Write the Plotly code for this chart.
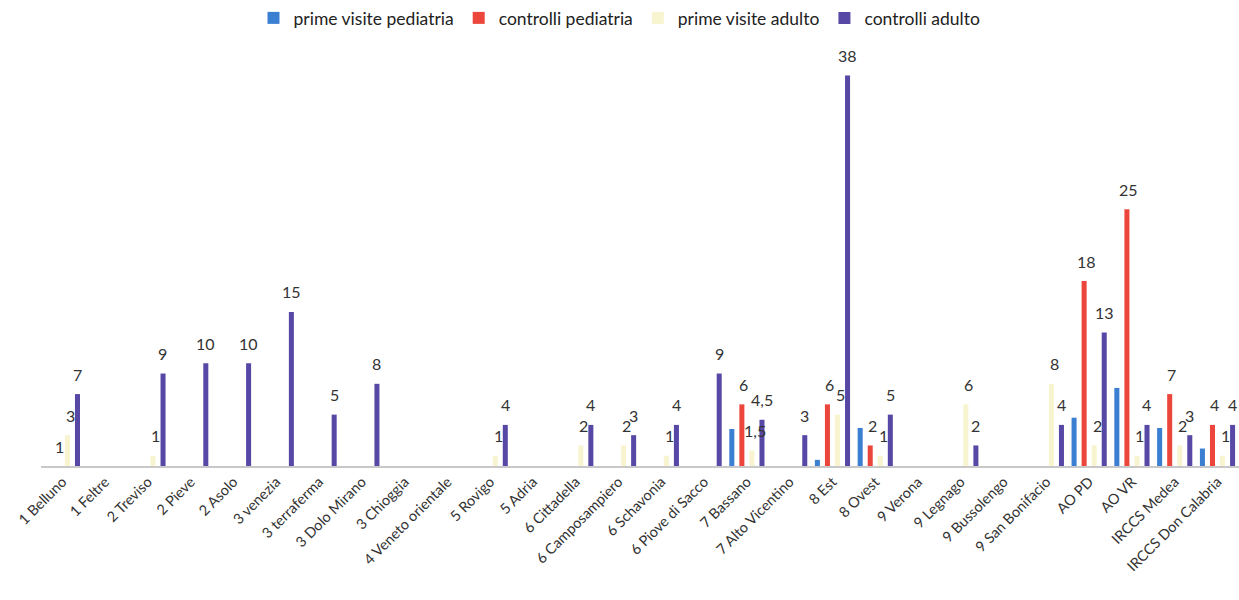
import plotly.graph_objects as go

categories = ["1 Belluno", "1 Feltre", "2 Treviso", "2 Pieve", "2 Asolo", "3 venezia",
              "3 terraferma", "3 Dolo Mirano", "3 Chioggia", "4 Veneto orientale",
              "5 Rovigo", "5 Adria", "6 Cittadella", "6 Camposampiero", "6 Schavonia",
              "6 Piove di Sacco", "7 Bassano", "7 Alto Vicentino", "8 Est", "8 Ovest",
              "9 Verona", "9 Legnago", "9 Bussolengo", "9 San Bonifacio", "AO PD",
              "AO VR", "IRCCS Medea", "IRCCS Don Calabria"]

prime_visite_pediatria = [0, 0, 0, 0, 0, 0, 0, 0, 0, 0, 0, 0, 0, 0, 0, 0,
                          3.6, 0, 0.6, 3.7, 0, 0, 0, 0, 4.7, 7.6, 3.7, 1.7]
controlli_pediatria = [0, 0, 0, 0, 0, 0, 0, 0, 0, 0, 0, 0, 0, 0, 0, 0,
                       6, 0, 6, 2, 0, 0, 0, 0, 18, 25, 7, 4]
prime_visite_adulto = [3, 0, 1, 0, 0, 0, 0, 0, 0, 0, 1, 0, 2, 2, 1, 0,
                       1.5, 0, 5, 1, 0, 6, 0, 8, 2, 1, 2, 1]
controlli_adulto = [7, 0, 9, 10, 10, 15, 5, 8, 0, 0, 4, 0, 4, 3, 4, 9,
                    4.5, 3, 38, 5, 0, 2, 0, 4, 13, 4, 3, 4]

# data labels as printed on the chart (Italian decimal comma)
controlli_pediatria_labels = ["1", "", "", "", "", "", "", "", "", "", "", "", "", "", "", "",
                              "6", "", "6", "2", "", "", "", "", "18", "25", "7", "4"]


def fmt(v):
    if v == 0:
        return ""
    return ("%g" % v).replace(".", ",")


FONT = "Lato, Liberation Sans, sans-serif"

# (name, values, colour, labels, label x-offset in px relative to group centre)
series = [
    ("prime visite pediatria", prime_visite_pediatria, "#3a7fd2", None, -15),
    ("controlli pediatria", controlli_pediatria, "#ec463c", controlli_pediatria_labels, -3),
    ("prime visite adulto", prime_visite_adulto, "#f7f4cf", [fmt(v) for v in prime_visite_adulto], 8),
    ("controlli adulto", controlli_adulto, "#5748a6", [fmt(v) for v in controlli_adulto], 15),
]

fig = go.Figure()
annotations = []
for name, vals, color, labels, dx in series:
    fig.add_trace(go.Bar(
        name=name, x=categories, y=vals,
        marker=dict(color=color, line=dict(width=0)),
    ))
    if labels is None:
        continue
    for cat, v, lab in zip(categories, vals, labels):
        if not lab:
            continue
        annotations.append(dict(
            x=cat, y=v, xref="x", yref="y", text=lab, showarrow=False,
            xshift=dx, yshift=20, yanchor="middle", xanchor="center",
            font=dict(family=FONT, size=16, color="#333333"),
        ))

fig.update_layout(
    width=1239, height=600,
    barmode="group", bargap=0.06, bargroupgap=0.5,
    plot_bgcolor="white", paper_bgcolor="white",
    margin=dict(l=41, r=0, t=55, b=134, autoexpand=False),
    font=dict(family=FONT, color="#333333"),
    showlegend=True,
    legend=dict(orientation="h", x=0.5, xanchor="center", xref="container",
                y=1.0, yanchor="top", yref="container",
                font=dict(size=17.5, color="#222222"), traceorder="normal"),
    xaxis=dict(showline=True, linecolor="#c8c8c8", linewidth=1.5, tickangle=-45,
               tickfont=dict(size=14.5, color="#333333"), ticks="", showgrid=False,
               automargin=False),
    yaxis=dict(range=[0, 40], visible=False, showgrid=False, automargin=False),
    annotations=annotations,
)

fig.write_html(
    "out.html",
    config={"displayModeBar": False},
    post_script="document.documentElement.style.margin='0';document.body.style.margin='0';"
                "document.body.style.overflow='hidden';",
)
